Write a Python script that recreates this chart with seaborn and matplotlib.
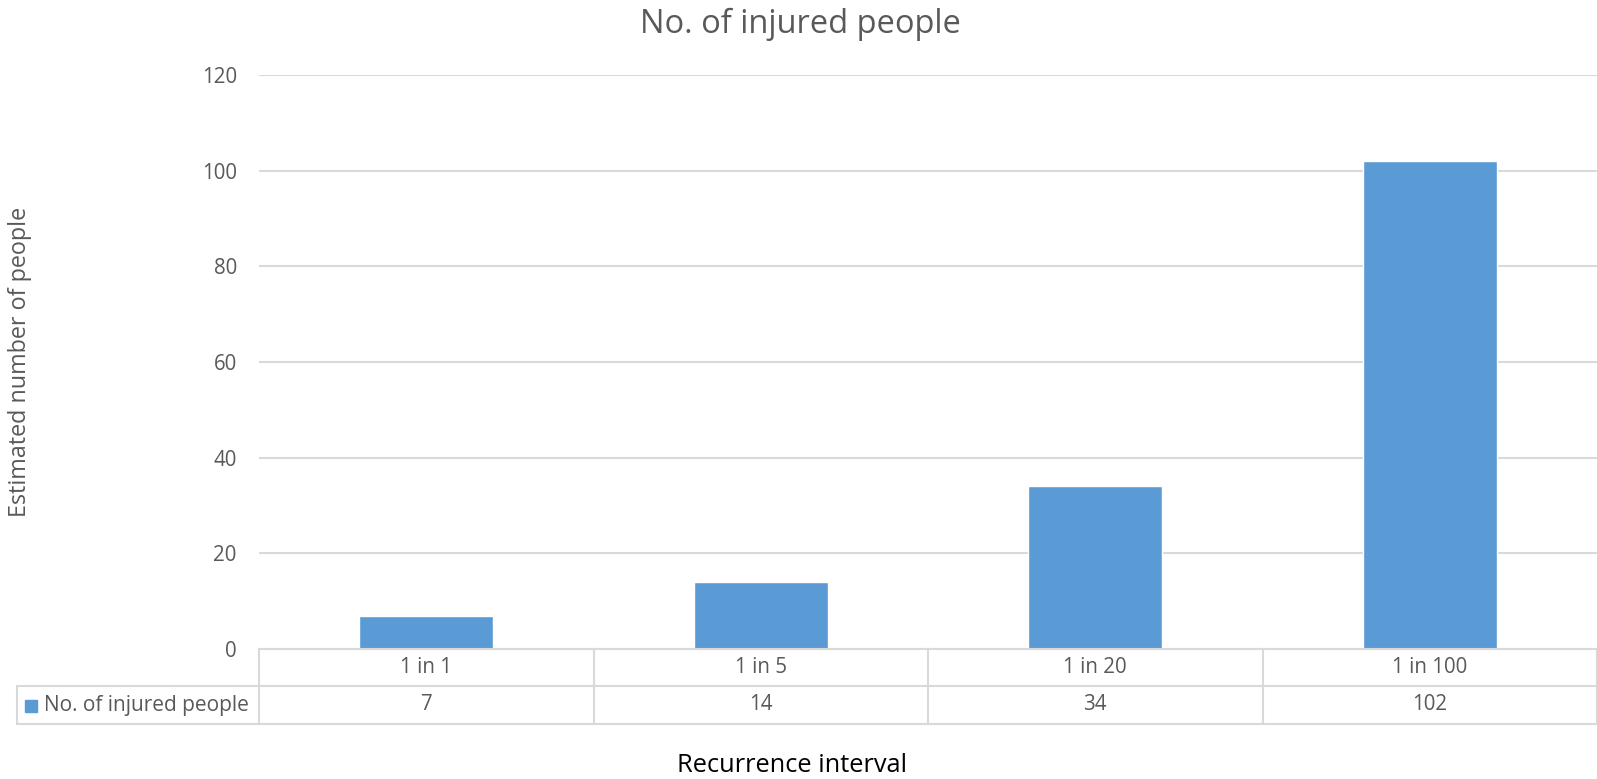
import matplotlib
matplotlib.use("Agg")
import matplotlib.pyplot as plt
from matplotlib.lines import Line2D
from matplotlib.patches import Rectangle
from matplotlib.transforms import blended_transform_factory
import seaborn as sns
import pandas as pd

# Data
categories = ["1 in 1", "1 in 5", "1 in 20", "1 in 100"]
injured = [7, 14, 34, 102]
series_name = "No. of injured people"
title = "No. of injured people"
x_label = "Recurrence interval"
y_label = "Estimated number of people"
y_ticks = [0, 20, 40, 60, 80, 100, 120]

BAR = "#5b9bd5"
TEXT = "#595959"
GRID = "#d9d9d9"
FONT = "Open Sans"

sns.set_theme(style="white")
plt.rcParams["font.family"] = [FONT, "DejaVu Sans"]

W, H = 1597, 779
fig = plt.figure(figsize=(W / 100, H / 100), dpi=100)

# plot area in pixels
left_px, right_px, top_px, bottom_px = 259, 1597, 75, 649
ax = fig.add_axes([left_px / W, 1 - bottom_px / H,
                   (right_px - left_px) / W, (bottom_px - top_px) / H])

df = pd.DataFrame({"interval": categories, "value": injured})
sns.barplot(data=df, x="interval", y="value", color=BAR, width=0.4,
            saturation=1, ax=ax, order=categories)

ax.set_xlim(-0.5, len(categories) - 0.5)
ax.set_ylim(y_ticks[0], y_ticks[-1])
ax.set_yticks(y_ticks)
ax.set_yticklabels([str(t) for t in y_ticks], color=TEXT, fontsize=14.8)
ax.set_xticks([])
ax.set_xlabel("")
ax.set_ylabel("")
ax.tick_params(axis="y", length=0, pad=16)
ax.yaxis.grid(True, color=GRID, linewidth=1.5)
ax.set_axisbelow(True)
for s in ["top", "right", "left", "bottom"]:
    ax.spines[s].set_visible(False)

# data table under the axis
ax_h = bottom_px - top_px
def yfrac(py):
    return (bottom_px - py) / ax_h

row1_bot = yfrac(686)
row2_bot = yfrac(724)
tr = blended_transform_factory(ax.transData, ax.transAxes)
line_kw = dict(color=GRID, linewidth=1.5, clip_on=False)

n = len(categories)
# horizontal rules
for yy in [0.0, row1_bot, row2_bot]:
    ax.add_line(Line2D([-0.5, n - 0.5], [yy, yy], transform=tr, **line_kw))
# vertical rules
for i in range(n + 1):
    ax.add_line(Line2D([i - 0.5, i - 0.5], [0.0, row2_bot], transform=tr, **line_kw))

# legend cell to the left
leg_left_px = 17
fig_tr = fig.transFigure
for py in [686, 724]:
    fig.add_artist(Line2D([leg_left_px / W, left_px / W], [1 - py / H, 1 - py / H],
                          transform=fig_tr, color=GRID, linewidth=1.5))
fig.add_artist(Line2D([leg_left_px / W, leg_left_px / W], [1 - 686 / H, 1 - 724 / H],
                      transform=fig_tr, color=GRID, linewidth=1.5))
fig.add_artist(Rectangle((25 / W, 1 - 712 / H), 12 / W, 12 / H,
                         transform=fig_tr, color=BAR))
fig.text(44 / W, 1 - 705 / H, series_name, color=TEXT, fontsize=15,
         ha="left", va="center")

for i, (c, v) in enumerate(zip(categories, injured)):
    ax.text(i, (0 + row1_bot) / 2, c, transform=tr, ha="center", va="center",
            color=TEXT, fontsize=14.8)
    ax.text(i, (row1_bot + row2_bot) / 2, str(v), transform=tr, ha="center",
            va="center", color=TEXT, fontsize=14.8)

fig.text(800 / W, 1 - 24 / H, title, ha="center", va="center",
         color=TEXT, fontsize=23.5)
fig.text(792 / W, 1 - 766 / H, x_label, ha="center", va="center",
         color="black", fontsize=18.3)
fig.text(20 / W, 1 - 362 / H, y_label, ha="center", va="center",
         rotation=90, color=TEXT, fontsize=16.8)

fig.savefig("out.png", dpi=100, facecolor="white")
